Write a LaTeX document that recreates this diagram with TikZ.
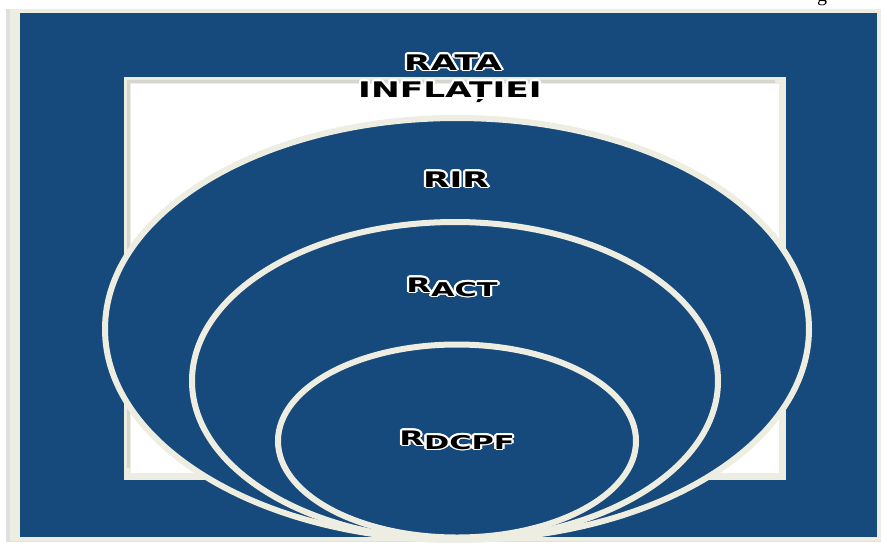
\documentclass[tikz,border=0pt]{standalone}
\usepackage{fontspec}
\setmainfont{Liberation Serif}
\newfontfamily\lblfont{DejaVu Sans}
\usepackage{contour}
\contourlength{1.4pt}
\contournumber{16}
\usetikzlibrary{shapes.geometric}
\definecolor{panelblue}{HTML}{174A7C}
\definecolor{cream}{HTML}{EEEDE2}
\newcommand\lbltext[1]{\scalebox{1.6}[1]{\contour{white}{#1}}}
\newcommand\subtext[1]{\raisebox{-4pt}{\fontsize{19}{19}\selectfont #1}}
\tikzset{
  ring/.style={ellipse, draw=cream, line width=6pt, fill=panelblue, inner sep=0pt},
  lbl/.style={text=black, font=\lblfont\bfseries\fontsize{21.5}{23}\selectfont, inner sep=0pt, anchor=base},
}
\begin{document}
\begin{tikzpicture}[x=1pt,y=-1pt]
\useasboundingbox (0,0) rectangle (881,542);
\fill[white] (0,0) rectangle (881,542);
% cropped caption letter
\node[anchor=base, font=\fontsize{20}{20}\selectfont, inner sep=0pt] (capg) at (822,1.5) {g};
% outer frame
\fill[black!12] (6,9) rectangle (881,542);
\fill[cream] (10,9) rectangle (881,541);
\node[fill=panelblue, minimum width=857pt, minimum height=524pt, inner sep=0pt, anchor=north west] (panel) at (20,13) {};
% inner white rectangle
\node[fill=white, draw=cream, line width=7pt, minimum width=655pt, minimum height=396pt, inner sep=0pt, anchor=north west] (box) at (124,77) {};
\draw[black!25, line width=3pt, opacity=0.5] (128.5,468) -- (128.5,81.5) -- (775,81.5);
% ellipses
\node[ring, minimum width=704pt, minimum height=422pt] (rir) at (457,329) {};
\node[ring, minimum width=526pt, minimum height=318pt] (ract) at (455,381) {};
\node[ring, minimum width=358pt, minimum height=193pt] (rdcpf) at (457,441) {};
% labels
\node[lbl] (rata) at (453,70) {\lbltext{RATA}};
\node[lbl] (infl) at (450,97) {\lbltext{INFLAȚIEI}};
\node[lbl] (tRIR) at (456,187) {\lbltext{RIR}};
\node[lbl] (tACT) at (452,292) {\lbltext{{\fontsize{20}{20}\selectfont R}\subtext{ACT}}};
\node[lbl] (tDCPF) at (457,445) {\lbltext{{\fontsize{20}{20}\selectfont R}\subtext{DCPF}}};
\end{tikzpicture}
\end{document}
